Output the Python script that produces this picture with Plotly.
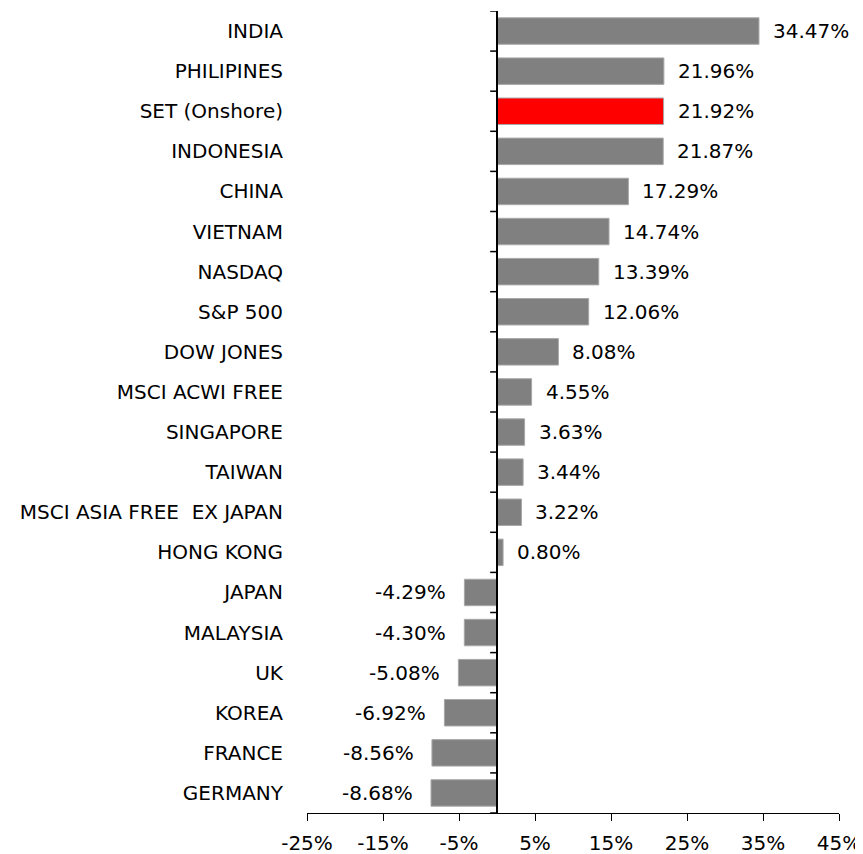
import plotly.graph_objects as go

categories = ["INDIA", "PHILIPINES", "SET (Onshore)", "INDONESIA", "CHINA", "VIETNAM",
              "NASDAQ", "S&P 500", "DOW JONES", "MSCI ACWI FREE", "SINGAPORE", "TAIWAN",
              "MSCI ASIA FREE\u00a0\u00a0EX JAPAN", "HONG KONG", "JAPAN", "MALAYSIA", "UK",
              "KOREA", "FRANCE", "GERMANY"]
values = [34.47, 21.96, 21.92, 21.87, 17.29, 14.74, 13.39, 12.06, 8.08, 4.55, 3.63, 3.44,
          3.22, 0.80, -4.29, -4.30, -5.08, -6.92, -8.56, -8.68]
highlight = "SET (Onshore)"
tick_vals = [-25, -15, -5, 5, 15, 25, 35, 45]
tick_text = ["-25%", "-15%", "-5%", "5%", "15%", "25%", "35%", "45%"]

FONT = "DejaVu Sans"
FS = 20
colors = ["#ff0000" if c == highlight else "#808080" for c in categories]
ypos = list(range(len(categories)))

fig = go.Figure()
fig.add_trace(go.Bar(
    x=values, y=ypos, orientation="h",
    marker=dict(color=colors, line=dict(color="#a8a8a8", width=1)),
    width=0.66, showlegend=False, hoverinfo="skip",
))

annotations = []
for yi, v in zip(ypos, values):
    annotations.append(dict(
        x=v, y=yi, xref="x", yref="y", text=f"{v:.2f}%", showarrow=False,
        xanchor="left" if v >= 0 else "right",
        xshift=12 if v >= 0 else -16,
        font=dict(family=FONT, size=FS, color="black"),
    ))

shapes = []
# vertical axis line at zero
shapes.append(dict(type="line", xref="x", yref="y", x0=0, x1=0,
                   y0=-0.5, y1=len(categories) - 0.5, line=dict(color="black", width=2)))
# category-boundary tick marks on zero line
for b in range(len(categories) + 1):
    shapes.append(dict(type="line", xref="x", yref="y", x0=-0.9, x1=0,
                       y0=b - 0.5, y1=b - 0.5, line=dict(color="black", width=1.5)))

fig.update_layout(
    width=855, height=846,
    margin=dict(l=299, r=24, t=3, b=41, autoexpand=False),
    paper_bgcolor="white", plot_bgcolor="white",
    font=dict(family=FONT, size=FS, color="black"),
    annotations=annotations,
    shapes=shapes,
    xaxis=dict(
        range=[-25, 45], tickvals=tick_vals, ticktext=tick_text, automargin=False,
        showgrid=False, zeroline=False, showline=True, linecolor="black", linewidth=1,
        ticks="outside", ticklen=7, tickcolor="black", tickwidth=1,
        ticklabelstandoff=5,
        tickfont=dict(family=FONT, size=FS, color="black"),
    ),
    yaxis=dict(
        range=[len(categories) - 0.5, -0.5], tickvals=ypos, ticktext=categories,
        showgrid=False, zeroline=False, showline=False, ticks="", automargin=False,
        ticklabelstandoff=23,
        tickfont=dict(family=FONT, size=FS, color="black"),
    ),
)

fig.write_html("out.html")
